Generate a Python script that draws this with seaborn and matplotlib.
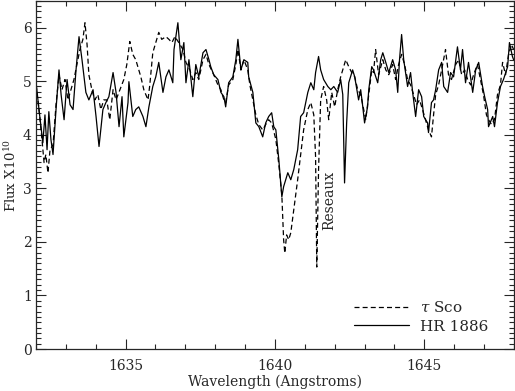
import numpy as np
import pandas as pd
import matplotlib
matplotlib.use("Agg")
import matplotlib.pyplot as plt
from matplotlib.ticker import MultipleLocator
import seaborn as sns

# HR 1886 spectrum (solid)
hr_wave = [1632.00, 1632.10, 1632.23, 1632.30, 1632.37, 1632.43, 1632.50, 1632.57, 1632.67, 1632.77,
           1632.84, 1632.94, 1633.04, 1633.14, 1633.24, 1633.34, 1633.44, 1633.54, 1633.67, 1633.77,
           1633.91, 1634.01, 1634.11, 1634.24, 1634.34, 1634.44, 1634.58, 1634.68, 1634.78, 1634.88,
           1634.94, 1635.08, 1635.11, 1635.24, 1635.34, 1635.44, 1635.58, 1635.68, 1635.78, 1635.91,
           1636.01, 1636.11, 1636.25, 1636.35, 1636.45, 1636.58, 1636.62, 1636.75, 1636.85, 1636.95,
           1637.02, 1637.12, 1637.25, 1637.35, 1637.45, 1637.59, 1637.69, 1637.79, 1637.85, 1637.95,
           1638.09, 1638.19, 1638.29, 1638.35, 1638.45, 1638.59, 1638.69, 1638.76, 1638.86, 1638.96,
           1639.09, 1639.12, 1639.26, 1639.36, 1639.46, 1639.59, 1639.69, 1639.79, 1639.89, 1639.96,
           1640.03, 1640.13, 1640.23, 1640.29, 1640.43, 1640.53, 1640.63, 1640.76, 1640.86, 1640.96,
           1641.10, 1641.20, 1641.30, 1641.36, 1641.46, 1641.53, 1641.63, 1641.77, 1641.87, 1641.97,
           1642.10, 1642.20, 1642.27, 1642.33, 1642.40, 1642.47, 1642.60, 1642.67, 1642.80, 1642.87,
           1642.94, 1643.00, 1643.10, 1643.14, 1643.24, 1643.30, 1643.44, 1643.54, 1643.61, 1643.71,
           1643.81, 1643.94, 1644.04, 1644.11, 1644.17, 1644.24, 1644.31, 1644.44, 1644.54, 1644.61,
           1644.71, 1644.81, 1644.91, 1644.98, 1645.11, 1645.14, 1645.24, 1645.31, 1645.38, 1645.48,
           1645.58, 1645.65, 1645.78, 1645.88, 1645.98, 1646.11, 1646.21, 1646.28, 1646.38, 1646.48,
           1646.62, 1646.72, 1646.82, 1646.95, 1647.02, 1647.12, 1647.15, 1647.29, 1647.35, 1647.45,
           1647.55, 1647.65, 1647.79, 1647.85, 1647.95, 1647.99]
hr_flux = [4.99, 4.47, 3.85, 4.37, 3.72, 4.43, 3.91, 3.63, 4.47, 5.21,
           4.75, 4.28, 5.03, 4.56, 4.47, 5.21, 5.83, 5.40, 4.79, 4.65,
           4.84, 4.34, 3.78, 4.47, 4.60, 4.71, 5.16, 4.79, 4.15, 4.71,
           3.96, 4.60, 4.99, 4.34, 4.47, 4.52, 4.34, 4.15, 4.52, 4.90,
           5.08, 5.35, 4.79, 5.08, 5.21, 4.97, 5.59, 6.09, 5.40, 5.72,
           4.97, 5.40, 4.71, 5.31, 5.08, 5.53, 5.59, 5.40, 5.27, 5.12,
           5.03, 4.79, 4.71, 4.52, 4.97, 5.08, 5.40, 5.78, 5.21, 5.40,
           5.35, 5.08, 4.79, 4.22, 4.15, 3.96, 4.22, 4.34, 4.41, 4.15,
           4.09, 3.53, 2.84, 3.03, 3.29, 3.16, 3.35, 3.72, 4.34, 4.41,
           4.79, 4.97, 4.84, 5.16, 5.46, 5.21, 5.03, 4.90, 4.84, 4.90,
           4.79, 5.03, 4.75, 3.10, 4.22, 4.97, 5.21, 5.08, 4.65, 4.84,
           4.52, 4.22, 4.52, 4.84, 5.27, 5.21, 4.97, 5.40, 5.53, 5.35,
           5.16, 5.40, 5.21, 4.79, 5.40, 5.87, 5.40, 4.90, 5.16, 4.79,
           4.34, 4.84, 4.71, 4.34, 4.22, 4.04, 4.60, 4.65, 4.84, 5.21,
           5.35, 4.90, 4.79, 5.16, 5.08, 5.64, 5.21, 5.59, 4.97, 5.35,
           4.79, 5.21, 5.35, 4.90, 4.71, 4.47, 4.15, 4.34, 4.15, 4.60,
           4.90, 5.03, 5.27, 5.72, 5.46, 5.40]

# tau Sco spectrum (dashed)
tau_wave = [1632.00, 1632.10, 1632.20, 1632.27, 1632.33, 1632.40, 1632.47, 1632.57, 1632.67, 1632.77,
            1632.87, 1632.97, 1633.07, 1633.17, 1633.27, 1633.37, 1633.47, 1633.57, 1633.64, 1633.71,
            1633.77, 1633.87, 1633.97, 1634.07, 1634.17, 1634.27, 1634.37, 1634.47, 1634.58, 1634.68,
            1634.81, 1634.94, 1635.04, 1635.14, 1635.24, 1635.34, 1635.44, 1635.51, 1635.61, 1635.75,
            1635.81, 1635.91, 1636.01, 1636.11, 1636.21, 1636.35, 1636.45, 1636.55, 1636.65, 1636.78,
            1636.92, 1637.02, 1637.15, 1637.25, 1637.35, 1637.45, 1637.59, 1637.69, 1637.79, 1637.95,
            1638.09, 1638.19, 1638.29, 1638.35, 1638.45, 1638.59, 1638.69, 1638.76, 1638.86, 1638.96,
            1639.09, 1639.16, 1639.26, 1639.36, 1639.46, 1639.59, 1639.69, 1639.79, 1639.89, 1640.03,
            1640.13, 1640.23, 1640.29, 1640.33, 1640.39, 1640.46, 1640.53, 1640.63, 1640.76, 1640.86,
            1640.96, 1641.10, 1641.20, 1641.30, 1641.36, 1641.40, 1641.46, 1641.53, 1641.63, 1641.73,
            1641.80, 1641.90, 1642.00, 1642.10, 1642.20, 1642.27, 1642.37, 1642.47, 1642.57, 1642.67,
            1642.77, 1642.87, 1642.97, 1643.04, 1643.14, 1643.24, 1643.30, 1643.37, 1643.47, 1643.61,
            1643.71, 1643.81, 1643.94, 1644.04, 1644.14, 1644.24, 1644.34, 1644.44, 1644.54, 1644.64,
            1644.74, 1644.84, 1644.94, 1645.04, 1645.14, 1645.24, 1645.31, 1645.38, 1645.48, 1645.58,
            1645.71, 1645.81, 1645.91, 1646.05, 1646.15, 1646.25, 1646.35, 1646.45, 1646.55, 1646.65,
            1646.78, 1646.88, 1646.98, 1647.08, 1647.15, 1647.25, 1647.35, 1647.45, 1647.55, 1647.62,
            1647.72, 1647.82, 1647.92, 1647.99]
tau_flux = [4.93, 4.47, 3.91, 3.48, 3.63, 3.29, 3.72, 3.81, 4.56, 5.12,
            4.84, 5.03, 4.65, 4.84, 5.03, 5.31, 5.59, 5.78, 6.09, 5.68,
            5.12, 4.84, 4.65, 4.75, 4.47, 4.65, 4.65, 4.28, 4.84, 4.65,
            4.84, 5.03, 5.31, 5.74, 5.50, 5.40, 5.21, 5.08, 4.84, 4.65,
            4.93, 5.53, 5.72, 5.91, 5.78, 5.83, 5.78, 5.72, 5.83, 5.72,
            5.59, 5.35, 5.21, 5.03, 5.16, 5.03, 5.40, 5.50, 5.31, 5.12,
            4.93, 4.84, 4.65, 4.60, 4.93, 5.03, 5.31, 5.59, 5.21, 5.40,
            5.21, 4.93, 4.65, 4.37, 4.19, 4.09, 4.19, 4.28, 4.22, 3.91,
            3.44, 2.88, 2.04, 1.79, 2.13, 2.04, 2.17, 2.60, 3.16, 3.63,
            4.09, 4.47, 4.60, 4.37, 3.59, 1.53, 3.35, 4.65, 4.90, 4.65,
            4.28, 4.79, 4.52, 4.84, 5.08, 5.21, 5.40, 5.27, 5.16, 5.08,
            4.84, 4.75, 4.47, 4.28, 4.75, 5.21, 5.16, 5.59, 5.12, 5.40,
            5.21, 5.12, 5.31, 5.03, 5.31, 5.50, 5.31, 5.03, 4.93, 4.75,
            4.56, 4.65, 4.47, 4.28, 4.09, 3.96, 4.37, 4.75, 4.93, 5.21,
            5.59, 5.12, 5.03, 5.31, 5.40, 5.12, 5.21, 5.03, 4.93, 5.12,
            5.31, 5.03, 4.75, 4.37, 4.28, 4.19, 4.28, 4.75, 4.93, 5.35,
            5.12, 5.50, 5.68, 5.59]

x_range = (1632, 1648)
y_range = (0, 6.5)
x_major = [1635, 1640, 1645]
y_major = [0, 1, 2, 3, 4, 5, 6]

tau = pd.DataFrame({"wave": tau_wave, "flux": tau_flux})
hr = pd.DataFrame({"wave": hr_wave, "flux": hr_flux})

sns.set_style("ticks")
plt.rcParams["font.family"] = ["DejaVu Serif"]
plt.rcParams["mathtext.fontset"] = "dejavuserif"

fig = plt.figure(figsize=(5.15, 3.91), dpi=100)
ax = fig.add_axes([0.0699, 0.1074, 0.928, 0.8906])

sns.lineplot(data=tau, x="wave", y="flux", ax=ax, color="black", lw=0.9,
             sort=False, estimator=None, label=r"$\tau$ Sco")
sns.lineplot(data=hr, x="wave", y="flux", ax=ax, color="black", lw=0.9,
             sort=False, estimator=None, label="HR 1886")
ax.lines[0].set_dashes([4, 2.5])

ax.text(1641.83, 2.78, "Reseaux", rotation=90, ha="center", va="center", fontsize=10)

ax.set_xlim(*x_range)
ax.set_ylim(*y_range)
ax.set_xticks(x_major)
ax.set_yticks(y_major)
ax.xaxis.set_minor_locator(MultipleLocator(1))
ax.yaxis.set_minor_locator(MultipleLocator(0.1))
ax.tick_params(which="both", direction="in", top=True, right=True, labelsize=10, width=0.8)
ax.tick_params(which="major", length=7)
ax.tick_params(axis="x", which="major", pad=7)
ax.tick_params(axis="y", which="major", pad=3)
ax.tick_params(which="minor", length=3.5)
for s in ax.spines.values():
    s.set_linewidth(0.9)

ax.set_xlabel("Wavelength (Angstroms)", fontsize=10, labelpad=1)
ax.set_ylabel(r"Flux X10$^{10}$", fontsize=9.5, labelpad=3)

leg = ax.legend(loc="lower right", bbox_to_anchor=(0.975, 0.005), frameon=False,
                handlelength=3.6, fontsize=11, labelspacing=0.3, handletextpad=0.7)

fig.savefig("out.png", dpi=100)
